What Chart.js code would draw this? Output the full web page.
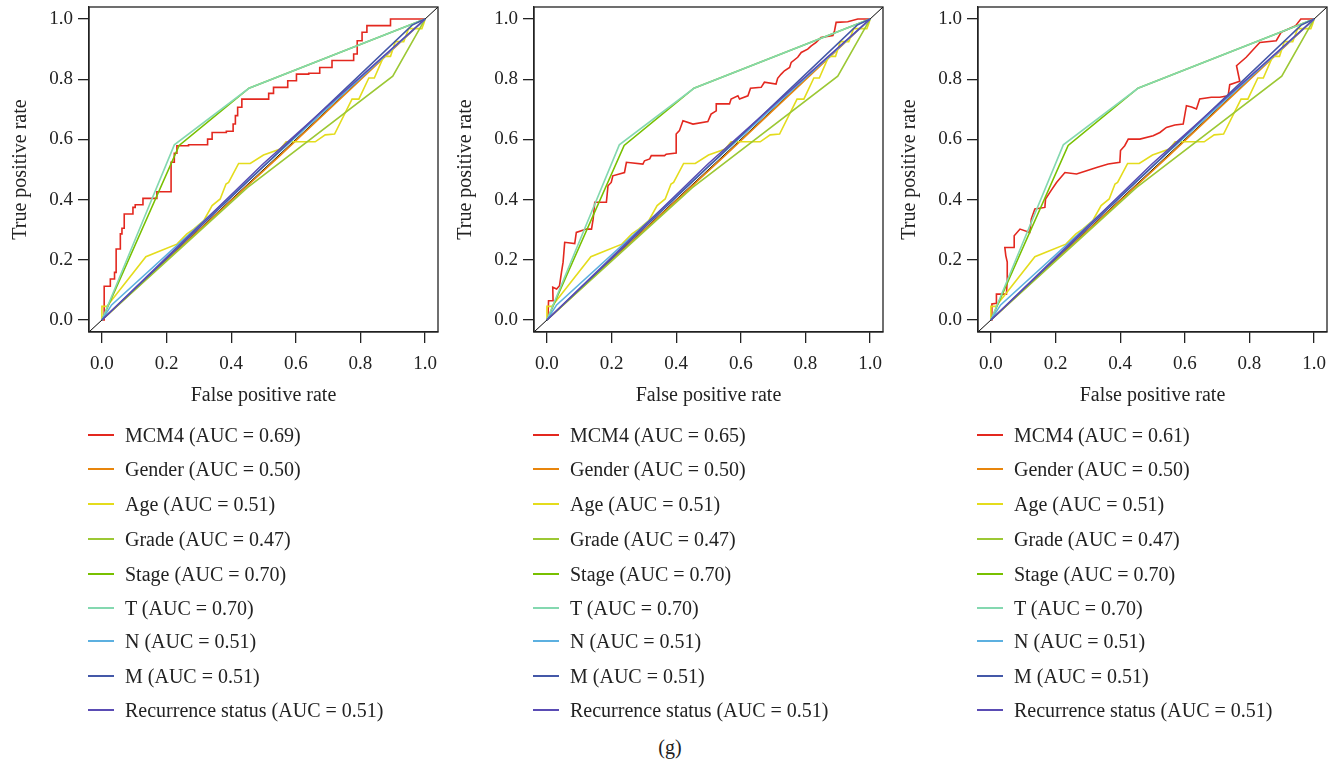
<!DOCTYPE html>
<html>
<head>
<meta charset="utf-8">
<script src="https://cdn.jsdelivr.net/npm/chart.js@4.4.1/dist/chart.umd.min.js"></script>
<style>
  html, body { margin: 0; padding: 0; background: #fff; }
  body { width: 1340px; height: 763px; position: relative; overflow: hidden; font-family: "Liberation Serif", "DejaVu Serif", serif; color: #222; }
  .panel { position: absolute; top: 0; width: 445px; height: 420px; }
  .legend { position: absolute; top: 418px; width: 445px; }
  .row { position: absolute; left: 0; height: 34px; white-space: nowrap; font-size: 20px; line-height: 34px; }
  .sw { position: absolute; left: 0; top: 16px; width: 26px; height: 2px; }
  .lbl { position: absolute; left: 37px; top: 0; }
  #cap { position: absolute; left: 0; width: 1340px; text-align: center; top: 736px; font-size: 20px; }
</style>
</head>
<body>
<canvas id="c0" class="panel" width="445" height="420" style="left:0px"></canvas>
<canvas id="c1" class="panel" width="445" height="420" style="left:445px"></canvas>
<canvas id="c2" class="panel" width="445" height="420" style="left:889px"></canvas>
<div id="lg0" class="legend" style="left:88px"></div>
<div id="lg1" class="legend" style="left:533px"></div>
<div id="lg2" class="legend" style="left:977px"></div>
<div id="cap">(g)</div>
<script>
// ---- data ----
const xTicks = [0, 0.2, 0.4, 0.6, 0.8, 1.0];
const yTicks = [0, 0.2, 0.4, 0.6, 0.8, 1.0];

const seriesNames = ["MCM4", "Gender", "Age", "Grade", "Stage", "T", "N", "M", "Recurrence status"];
const seriesColors = ["#e3281f", "#e8850c", "#e4dc1c", "#9cc834", "#78c000", "#84d8b0", "#5cb0e0", "#4458a8", "#5a4cb4"];
const mcm4Auc = ["0.69", "0.65", "0.61"];
const otherAuc = ["0.50", "0.51", "0.47", "0.70", "0.70", "0.51", "0.51", "0.51"];

// MCM4, one curve per panel (panel 1 is a step curve: tops of each rise)
const mcm4Panel1 = [[0,0],[0.007,0.112],[0.026,0.136],[0.039,0.158],[0.044,0.236],[0.057,0.286],[0.062,0.305],
  [0.069,0.352],[0.096,0.374],[0.103,0.383],[0.127,0.404],[0.170,0.426],[0.214,0.524],[0.224,0.554],[0.232,0.579],
  [0.268,0.582],[0.327,0.601],[0.341,0.623],[0.385,0.627],[0.406,0.651],[0.413,0.679],[0.420,0.707],[0.433,0.734],
  [0.516,0.753],[0.531,0.773],[0.575,0.795],[0.602,0.817],[0.640,0.820],[0.674,0.839],[0.712,0.862],[0.779,0.884],
  [0.790,0.928],[0.805,0.956],[0.820,0.978],[0.893,1.0],[1,1]];
const mcm4Panel2 = [[0,0],[0.003,0.003],[0.005,0.064],[0.019,0.064],[0.018,0.109],[0.030,0.103],[0.039,0.114],
  [0.045,0.158],[0.050,0.192],[0.055,0.258],[0.086,0.254],[0.091,0.291],[0.122,0.302],[0.138,0.302],[0.143,0.335],
  [0.148,0.391],[0.184,0.391],[0.189,0.446],[0.199,0.457],[0.204,0.479],[0.240,0.490],[0.246,0.524],[0.297,0.518],
  [0.302,0.529],[0.318,0.535],[0.323,0.546],[0.364,0.546],[0.369,0.551],[0.400,0.555],[0.400,0.618],[0.410,0.629],
  [0.421,0.662],[0.452,0.651],[0.498,0.659],[0.508,0.684],[0.524,0.695],[0.524,0.718],[0.565,0.718],[0.570,0.734],
  [0.591,0.745],[0.596,0.734],[0.622,0.745],[0.630,0.770],[0.663,0.773],[0.673,0.790],[0.709,0.784],[0.714,0.803],
  [0.725,0.817],[0.735,0.828],[0.751,0.839],[0.756,0.856],[0.776,0.873],[0.787,0.889],[0.807,0.900],[0.818,0.911],
  [0.833,0.922],[0.848,0.939],[0.885,0.945],[0.890,0.961],[0.895,0.989],[0.931,0.991],[0.962,1.0],[1,1]];
const mcm4Panel3 = [[0,0],[0.002,0.0],[0.003,0.053],[0.017,0.055],[0.017,0.086],[0.048,0.086],[0.050,0.125],
  [0.051,0.159],[0.050,0.192],[0.046,0.214],[0.043,0.241],[0.074,0.241],[0.072,0.280],[0.090,0.302],[0.120,0.291],
  [0.125,0.336],[0.136,0.369],[0.167,0.374],[0.169,0.402],[0.186,0.430],[0.203,0.457],[0.229,0.490],[0.265,0.485],
  [0.296,0.496],[0.327,0.507],[0.363,0.518],[0.399,0.524],[0.401,0.563],[0.414,0.579],[0.425,0.601],[0.461,0.601],
  [0.502,0.612],[0.523,0.623],[0.543,0.640],[0.569,0.648],[0.595,0.651],[0.605,0.712],[0.621,0.708],[0.636,0.701],
  [0.646,0.734],[0.682,0.740],[0.708,0.740],[0.734,0.745],[0.739,0.782],[0.770,0.793],[0.760,0.845],[0.790,0.873],
  [0.832,0.922],[0.883,0.928],[0.898,0.956],[0.943,0.978],[0.959,1.0],[1,1]];

// clinical variables, same in every panel
const genderRoc = [[0,0],[0.55,0.545],[1,1]];
const ageRoc = [[0,0],[0,0.045],[0.015,0.045],[0.136,0.210],[0.170,0.225],[0.232,0.252],[0.263,0.286],[0.284,0.302],
  [0.315,0.330],[0.341,0.380],[0.366,0.402],[0.384,0.452],[0.392,0.457],[0.423,0.520],[0.459,0.520],[0.500,0.548],
  [0.552,0.568],[0.570,0.592],[0.660,0.592],[0.691,0.615],[0.720,0.618],[0.774,0.734],[0.795,0.734],[0.826,0.804],
  [0.843,0.804],[0.872,0.876],[0.893,0.876],[0.908,0.925],[0.934,0.925],[0.949,0.968],[0.990,0.968],[0.996,0.985],[1,1]];
const gradeRoc = [[0,0],[0.45,0.44],[0.90,0.81],[1,1]];
const stageRoc = [[0,0],[0.239,0.580],[0.455,0.770],[1,1]];
const tRoc = [[0,0],[0.224,0.582],[0.455,0.770],[1,1]];
const nRoc = [[0,0],[0.03,0.05],[1,1]];
const mRoc = [[0,0],[0.96,0.98],[1,1]];
const recurrenceRoc = [[0,0],[0.50,0.52],[1,1]];
const chanceLine = [[-0.04,-0.04],[1.04,1.04]];

const mcm4Curves = [mcm4Panel1, mcm4Panel2, mcm4Panel3];
const otherCurves = [genderRoc, ageRoc, gradeRoc, stageRoc, tRoc, nRoc, mRoc, recurrenceRoc];

const FONT = "'Liberation Serif', 'DejaVu Serif', serif";
const INK = "#222";

const toXY = (pts) => pts.map(([x, y]) => ({ x, y }));

const boxPlugin = {
  id: "box",
  afterDatasetsDraw(chart) {
    const { ctx, chartArea: a } = chart;
    ctx.save();
    ctx.strokeStyle = INK;
    ctx.lineWidth = 1.3;
    ctx.strokeRect(a.left, a.top, a.right - a.left, a.bottom - a.top);
    ctx.restore();
  }
};

function makeChart(idx) {
  const datasets = [];
  datasets.push({
    data: toXY(mcm4Curves[idx]),
    borderColor: seriesColors[0],
    stepped: idx === 0 ? "before" : false,
    order: 9
  });
  otherCurves.forEach((pts, i) => {
    datasets.push({ data: toXY(pts), borderColor: seriesColors[i + 1], order: 8 - i });
  });
  datasets.push({ data: toXY(chanceLine), borderColor: "#000", borderWidth: 1, order: 20 });

  datasets.forEach((d) => {
    d.showLine = true;
    d.pointRadius = 0;
    d.tension = 0;
    d.fill = false;
    if (!d.borderWidth) d.borderWidth = 1.6;
  });

  const axisCommon = (ticks, title, fit) => ({
    type: "linear",
    min: -0.04,
    max: 1.04,
    afterBuildTicks: (s) => { s.ticks = ticks.map((v) => ({ value: v })); },
    afterFit: fit,
    grid: { drawOnChartArea: false, drawTicks: true, tickLength: 11, color: INK, lineWidth: 1.3 },
    border: { display: true, color: INK, width: 1.3 },
    ticks: { color: INK, font: { family: FONT, size: 19 }, callback: (v) => Number(v).toFixed(1), padding: 4, maxRotation: 0 },
    title: { display: true, text: title, color: INK, font: { family: FONT, size: 20, lineHeight: 1.2 } }
  });

  const xAxis = axisCommon(xTicks, "False positive rate", (s) => {
    s.height = 88; s.paddingLeft = 0; s.paddingRight = 0;
  });
  xAxis.title.padding = { top: 0, bottom: 12 };
  xAxis.ticks.padding = 10;
  const yAxis = axisCommon(yTicks, "True positive rate", (s) => {
    s.width = 89; s.paddingTop = 0; s.paddingBottom = 0;
  });
  yAxis.title.padding = { top: 9, bottom: 0 };
  yAxis.ticks.padding = 5;

  new Chart(document.getElementById("c" + idx), {
    type: "scatter",
    data: { datasets },
    options: {
      responsive: false,
      animation: false,
      devicePixelRatio: 1,
      layout: { padding: { top: 7, right: 7, left: 0, bottom: 0 } },
      plugins: { legend: { display: false }, tooltip: { enabled: false } },
      scales: { x: xAxis, y: yAxis }
    },
    plugins: [boxPlugin]
  });
}

function makeLegend(idx) {
  const el = document.getElementById("lg" + idx);
  const aucs = [mcm4Auc[idx]].concat(otherAuc);
  const rowTops = [0, 34, 69, 104, 139, 173, 206, 241, 275];
  el.innerHTML = seriesNames.map((name, i) => `
    <div class="row" style="top:${rowTops[i]}px">
      <div class="sw" style="background:${seriesColors[i]}"></div>
      <div class="lbl">${name} (AUC = ${aucs[i]})</div>
    </div>`).join("");
}

[0, 1, 2].forEach((i) => { makeChart(i); makeLegend(i); });
</script>
</body>
</html>
